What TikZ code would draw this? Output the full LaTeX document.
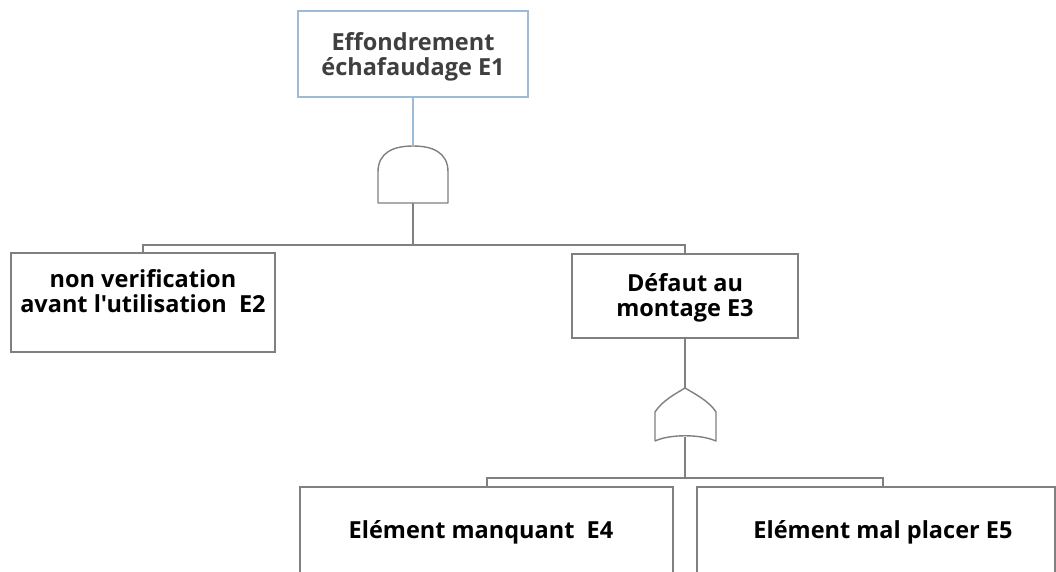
\documentclass[tikz,border=0pt]{standalone}
\usepackage{fontspec}
\setmainfont{Open Sans}[Ligatures=TeXOff]
\definecolor{boxgray}{HTML}{808080}
\definecolor{topblue}{HTML}{9DBAD6}
\definecolor{toptext}{HTML}{3F3F3F}
\begin{document}
\begin{tikzpicture}[x=1pt,y=-1pt,
  labelfont/.style={font=\fontsize{23.5}{25}\selectfont\bfseries,align=center,inner sep=0pt},
  event/.style={draw=boxgray,line width=1.4pt,fill=white,rectangle,inner sep=0pt},
  wire/.style={draw=boxgray,line width=1.6pt},
  gate/.style={draw=boxgray,line width=1.4pt,fill=white,line join=round}]
\useasboundingbox (0,0) rectangle (1056,571);
\clip (0,0) rectangle (1056,571);

% event boxes
\node[event,draw=topblue,minimum width=230pt,minimum height=86pt] (e1) at (413,54) {};
\node[event,minimum width=264pt,minimum height=99pt] (e2) at (143,302.5) {};
\node[event,minimum width=226pt,minimum height=84pt] (e3) at (685,296) {};
\node[event,minimum width=373pt,minimum height=133pt] (e4) at (486.5,553.5) {};
\node[event,minimum width=358pt,minimum height=133pt] (e5) at (876,553.5) {};

% event texts
\node[labelfont,text=toptext] (t1) at (413,57) {Effondrement\\échafaudage E1};
\node[labelfont] (t2) at (143,291.5) {non verification\\avant l'utilisation\ \ E2};
\node[labelfont] (t3) at (685,298) {Défaut au\\montage E3};
\node[labelfont] (t4) at (481,532) {Elément manquant\ \ E4};
\node[labelfont] (t5) at (883,532) {Elément mal placer E5};

% gate anchor points
\coordinate (andtop) at (413,146);
\coordinate (andbot) at (413,203);
\coordinate (ortop) at (685,388);
\coordinate (orbot) at (685,437);
\coordinate (bus1) at (413,245);
\coordinate (bus2) at (685,478);

% AND gate
\draw[gate] (378,203) -- (378,172)
  .. controls (378,152) and (394,146) .. (andtop)
  .. controls (432,146) and (448,152) .. (448,172) -- (448,203) -- cycle;
% OR gate
\draw[gate] (655,441) -- (655,412)
  .. controls (662,401) and (675,394) .. (ortop)
  .. controls (695,394) and (709,401) .. (716,412) -- (716,441)
  .. controls (700,434) and (670,434) .. (655,441);

% connectors
\draw[draw=topblue,line width=1.6pt] (e1.south) -- (andtop);
\draw[wire] (andbot) -- (bus1);
\draw[wire] (e2.north) -- (e2.north |- bus1) -- (e3.north |- bus1) -- (e3.north);
\draw[wire] (e3.south) -- (ortop);
\draw[wire] (orbot) -- (bus2);
\draw[wire] (e4.north -| t4) ++(6,0) coordinate (d4) -- (d4 |- bus2)
  -- (bus2 -| t5) -- (e5.north -| t5);
\end{tikzpicture}
\end{document}
